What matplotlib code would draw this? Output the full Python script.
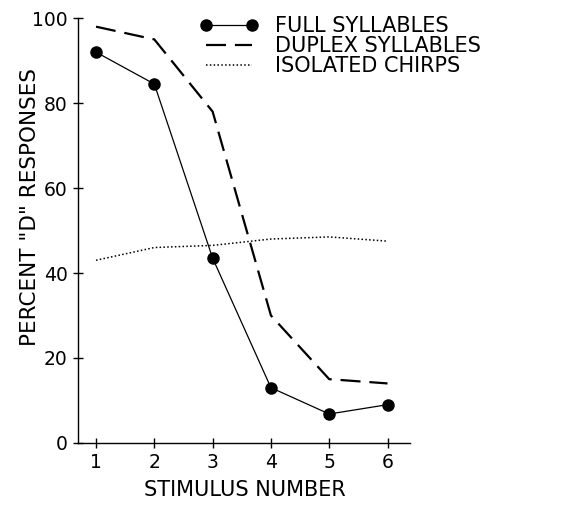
import numpy as np
import matplotlib
matplotlib.use("Agg")
import matplotlib.pyplot as plt

# values
stimulus = [1, 2, 3, 4, 5, 6]
full_syllables = [92, 84.5, 43.5, 13, 6.8, 9]
duplex_syllables = [98, 95, 78, 30, 15, 14]
isolated_chirps = [43, 46, 46.5, 48, 48.5, 47.5]
yticks = [0, 20, 40, 60, 80, 100]

plt.rcParams['font.family'] = ['DejaVu Sans']

fig = plt.figure(figsize=(5.69, 5.05), dpi=100)
ax = fig.add_axes([0.137, 0.123, 0.583, 0.841])

ax.plot(stimulus, full_syllables, color='black', lw=0.9, marker='o',
        markersize=8, label='FULL SYLLABLES')
ax.plot(stimulus, duplex_syllables, color='black', lw=1.6,
        dashes=(9, 4), label='DUPLEX SYLLABLES')
ax.plot(stimulus, isolated_chirps, color='black', lw=1.1,
        linestyle=(0, (1, 1.5)), label='ISOLATED CHIRPS')

ax.set_xlim(0.69, 6.38)
ax.set_ylim(0, 100)
ax.set_xticks(stimulus)
ax.set_yticks(yticks)
ax.tick_params(direction='inout', length=7, width=1, labelsize=13.5, pad=4)
for s in ['top', 'right']:
    ax.spines[s].set_visible(False)
for s in ['left', 'bottom']:
    ax.spines[s].set_linewidth(1.0)

fig.text(30/569, 0.59, 'PERCENT "D" RESPONSES', rotation=90,
         ha='center', va='center', fontsize=15.5)
fig.text(0.43, 0.03, 'STIMULUS NUMBER', ha='center', va='center',
         fontsize=15)

leg = ax.legend(loc='upper left', bbox_to_anchor=(200/569, 1 - 16/505),
                bbox_transform=fig.transFigure, frameon=False, fontsize=15,
                handlelength=2.8, handletextpad=0.8, labelspacing=0.0,
                numpoints=2, borderaxespad=0, borderpad=0)

fig.savefig('out.png', dpi=100)
